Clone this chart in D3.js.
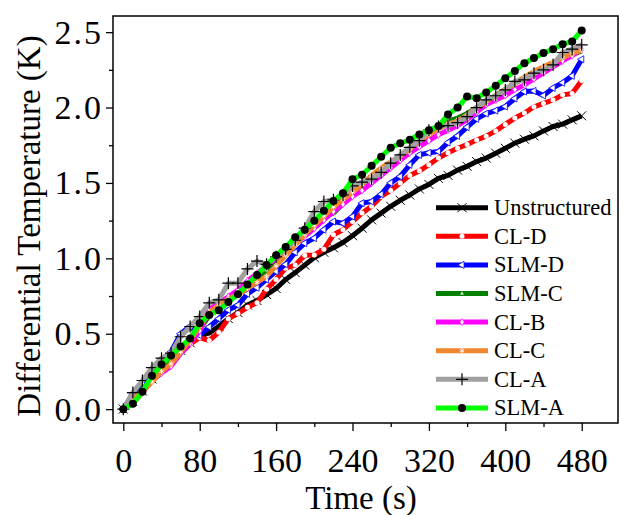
<!DOCTYPE html>
<html>
<head>
<meta charset="utf-8">
<script src="https://cdn.jsdelivr.net/npm/d3@7/dist/d3.min.js"></script>
<style>
  body { margin: 0; background: #fff; }
  svg { display: block; font-family: "Liberation Serif", "Times New Roman", serif; }
</style>
</head>
<body>
<svg id="chart" width="619" height="515"></svg>
<script>
// time axis (s)
const times = [0, 10, 20, 30, 40, 50, 60, 70, 80, 90, 100, 110, 120, 130, 140, 150, 160, 170, 180, 190,
  200, 210, 220, 230, 240, 250, 260, 270, 280, 290, 300, 310, 320, 330, 340, 350, 360, 370, 380, 390,
  400, 410, 420, 430, 440, 450, 460, 470, 480];

const unstructured = [0, 0.05, 0.12, 0.2, 0.27, 0.33, 0.39, 0.44, 0.49, 0.505, 0.55, 0.6, 0.64, 0.69, 0.72, 0.76,
  0.8, 0.86, 0.905, 0.955, 1.005, 1.04, 1.07, 1.105, 1.15, 1.2, 1.255, 1.3, 1.345, 1.385, 1.42, 1.46, 1.49, 1.53,
  1.55, 1.585, 1.61, 1.642, 1.665, 1.697, 1.73, 1.764, 1.79, 1.812, 1.845, 1.874, 1.89, 1.918, 1.945];
const clD = [0, 0.04, 0.11, 0.19, 0.25, 0.31, 0.37, 0.43, 0.475, 0.455, 0.51, 0.6, 0.634, 0.675, 0.705, 0.795,
  0.86, 0.935, 0.955, 1.021, 1.022, 1.06, 1.156, 1.19, 1.244, 1.3, 1.345, 1.41, 1.45, 1.5, 1.55, 1.58, 1.62, 1.665,
  1.7, 1.73, 1.755, 1.785, 1.81, 1.845, 1.888, 1.93, 1.963, 2.005, 2.027, 2.05, 2.084, 2.093, 2.179];
const slmD = [0, 0.1, 0.17, 0.23, 0.29, 0.38, 0.5, 0.55, 0.49, 0.545, 0.6, 0.658, 0.69, 0.765, 0.805, 0.86,
  0.913, 0.96, 1.04, 1.1, 1.134, 1.19, 1.244, 1.233, 1.277, 1.366, 1.377, 1.425, 1.5, 1.543, 1.62, 1.686, 1.7, 1.708,
  1.768, 1.812, 1.87, 1.925, 1.96, 1.98, 2.007, 2.06, 2.106, 2.11, 2.08, 2.13, 2.165, 2.21, 2.32];
const slmC = [0, 0.06, 0.13, 0.2, 0.26, 0.32, 0.39, 0.45, 0.53, 0.62, 0.67, 0.72, 0.77, 0.82, 0.87, 0.92,
  0.98, 1.04, 1.1, 1.17, 1.23, 1.27, 1.3, 1.36, 1.42, 1.47, 1.53, 1.58, 1.63, 1.67, 1.72, 1.77, 1.82, 1.87,
  1.91, 1.93, 1.96, 2.0, 2.04, 2.08, 2.12, 2.16, 2.2, 2.23, 2.26, 2.29, 2.32, 2.35, 2.375];
const clB = [0, 0.06, 0.12, 0.19, 0.24, 0.285, 0.37, 0.44, 0.52, 0.66, 0.705, 0.745, 0.79, 0.85, 0.9, 0.95,
  1.0, 1.05, 1.1, 1.145, 1.2, 1.255, 1.31, 1.36, 1.41, 1.45, 1.5, 1.55, 1.6, 1.65, 1.7, 1.74, 1.78, 1.82,
  1.85, 1.88, 1.92, 1.97, 2.02, 2.05, 2.08, 2.12, 2.15, 2.19, 2.23, 2.27, 2.31, 2.345, 2.385];
const clC = [0, 0.06, 0.12, 0.18, 0.25, 0.3, 0.38, 0.46, 0.55, 0.64, 0.69, 0.73, 0.76, 0.8, 0.84, 0.88,
  0.95, 1.02, 1.09, 1.16, 1.22, 1.28, 1.34, 1.39, 1.44, 1.49, 1.55, 1.6, 1.64, 1.68, 1.725, 1.78, 1.82, 1.86,
  1.89, 1.91, 1.95, 2.0, 2.04, 2.08, 2.12, 2.16, 2.2, 2.24, 2.27, 2.3, 2.33, 2.36, 2.38];
const clA = [0, 0.11, 0.19, 0.275, 0.338, 0.371, 0.48, 0.548, 0.614, 0.705, 0.725, 0.835, 0.835, 0.93, 0.982, 0.96,
  1.01, 1.06, 1.12, 1.2, 1.31, 1.377, 1.388, 1.42, 1.48, 1.505, 1.525, 1.57, 1.631, 1.686, 1.736, 1.78, 1.85, 1.874,
  1.88, 1.9, 1.94, 2.0, 2.051, 2.078, 2.117, 2.173, 2.184, 2.228, 2.25, 2.283, 2.365, 2.387, 2.416];
const slmA = [0, 0.035, 0.115, 0.221, 0.296, 0.355, 0.415, 0.468, 0.57, 0.625, 0.655, 0.71, 0.762, 0.826, 0.89, 0.955,
  1.02, 1.075, 1.14, 1.19, 1.25, 1.315, 1.38, 1.432, 1.525, 1.554, 1.614, 1.673, 1.733, 1.763, 1.786, 1.821, 1.85, 1.877,
  1.954, 2.0, 2.073, 2.062, 2.1, 2.144, 2.195, 2.243, 2.294, 2.328, 2.361, 2.387, 2.42, 2.438, 2.511];

const xTicks = [0, 80, 160, 240, 320, 400, 480];
const xMinorTicks = [40, 120, 200, 280, 360, 440];
const yTicks = [0, 0.5, 1.0, 1.5, 2.0, 2.5];
const yMinorTicks = [0.25, 0.75, 1.25, 1.75, 2.25];

const series = [
  { name: 'Unstructured', values: unstructured, color: '#000000', marker: 'times' },
  { name: 'CL-D', values: clD, color: '#ff0000', marker: 'circle' },
  { name: 'SLM-D', values: slmD, color: '#0000ff', marker: 'triLeft' },
  { name: 'SLM-C', values: slmC, color: '#008000', marker: 'triUp' },
  { name: 'CL-B', values: clB, color: '#ff00ff', marker: 'diamond' },
  { name: 'CL-C', values: clC, color: '#f0862e', marker: 'asterisk' },
  { name: 'CL-A', values: clA, color: '#a0a0a0', marker: 'plus' },
  { name: 'SLM-A', values: slmA, color: '#00ff00', marker: 'dot' },
];

const margin = { top: 16, right: 1, bottom: 92, left: 113 };
const width = 619, height = 515;

const svg = d3.select('#chart');

const x = d3.scaleLinear()
  .domain([-10.8, 518])
  .range([margin.left, width - margin.right]);

const y = d3.scaleLinear()
  .domain([-0.092, 2.607])
  .range([height - margin.bottom, margin.top]);

// axes
svg.append('g')
  .attr('class', 'xaxis')
  .attr('transform', `translate(0,${height - margin.bottom})`)
  .call(d3.axisBottom(x).tickValues(xTicks).tickSize(8).tickPadding(17).tickFormat(d3.format('d')));
svg.append('g')
  .attr('transform', `translate(0,${height - margin.bottom})`)
  .call(d3.axisBottom(x).tickValues(xMinorTicks).tickSize(4).tickFormat(''));

svg.append('g')
  .attr('class', 'yaxis')
  .attr('transform', `translate(${margin.left},0)`)
  .call(d3.axisLeft(y).tickValues(yTicks).tickSize(7).tickPadding(5).tickFormat(d3.format('.1f')));
svg.append('g')
  .attr('transform', `translate(${margin.left},0)`)
  .call(d3.axisLeft(y).tickValues(yMinorTicks).tickSize(4).tickFormat(''));

svg.selectAll('.domain').remove();
svg.selectAll('.tick line').attr('stroke', '#000').attr('stroke-width', 1.3);
svg.selectAll('.tick text')
  .attr('fill', '#000')
  .style('font-family', '"Liberation Serif", serif')
  .style('font-size', '34px');
svg.selectAll('.yaxis .tick text')
  .style('letter-spacing', '2px')
  .attr('dx', '2');

// frame
svg.append('rect')
  .attr('x', margin.left)
  .attr('y', margin.top)
  .attr('width', width - margin.right - margin.left)
  .attr('height', height - margin.bottom - margin.top)
  .attr('fill', 'none')
  .attr('stroke', '#000')
  .attr('stroke-width', 1.5);

// axis titles
svg.append('text')
  .attr('x', 361)
  .attr('y', 509)
  .attr('text-anchor', 'middle')
  .style('font-size', '33px')
  .text('Time (s)');

svg.append('text')
  .attr('transform', 'translate(40,226) rotate(-90)')
  .attr('text-anchor', 'middle')
  .style('font-size', '33px')
  .text('Differential Temperature (K)');

// marker drawing
const drawMarker = (g, type, color) => {
  if (type === 'times') {
    g.append('path').attr('d', 'M-4.5,-4.5L4.5,4.5M-4.5,4.5L4.5,-4.5')
      .attr('stroke', '#000').attr('stroke-width', 1).attr('fill', 'none');
  } else if (type === 'plus') {
    g.append('path').attr('d', 'M-6,0L6,0M0,-6L0,6')
      .attr('stroke', '#000').attr('stroke-width', 1.2).attr('fill', 'none');
  } else if (type === 'circle') {
    g.append('circle').attr('r', 2.5).attr('fill', '#fff');
  } else if (type === 'dot') {
    g.append('circle').attr('r', 4).attr('fill', '#000');
  } else if (type === 'triLeft') {
    g.append('path').attr('d', d3.symbol(d3.symbolTriangle, 22)())
      .attr('transform', 'rotate(-90)')
      .attr('fill', '#fff').attr('stroke', color).attr('stroke-width', 0.8);
  } else if (type === 'triUp') {
    g.append('path').attr('d', d3.symbol(d3.symbolTriangle, 7)())
      .attr('fill', '#fff').attr('stroke', 'none').attr('opacity', 0.8);
  } else if (type === 'diamond') {
    g.append('path').attr('d', d3.symbol(d3.symbolDiamond, 16)())
      .attr('fill', '#fff').attr('stroke', color).attr('stroke-width', 0.6);
  } else if (type === 'asterisk') {
    g.append('path').attr('d', d3.symbol(d3.symbolAsterisk, 18)())
      .attr('fill', 'none').attr('stroke', '#fff').attr('stroke-width', 0.9);
  }
};

const line = d3.line()
  .x((d, i) => x(times[i]))
  .y(d => y(d));

const plot = svg.append('g');

series.forEach(s => {
  const g = plot.append('g');
  g.append('path')
    .datum(s.values)
    .attr('d', line)
    .attr('fill', 'none')
    .attr('stroke', s.color)
    .attr('stroke-width', 5)
    .attr('stroke-linejoin', 'round');
  s.values.forEach((v, i) => {
    const m = g.append('g').attr('transform', `translate(${x(times[i])},${y(v)})`);
    drawMarker(m, s.marker, s.color);
  });
});

// legend
const legend = svg.append('g');
series.forEach((s, i) => {
  const ly = 207.7 + i * 28.6;
  legend.append('line')
    .attr('x1', 436).attr('x2', 488)
    .attr('y1', ly).attr('y2', ly)
    .attr('stroke', s.color)
    .attr('stroke-width', 5);
  const m = legend.append('g').attr('transform', `translate(462,${ly})`);
  drawMarker(m, s.marker, s.color);
  legend.append('text')
    .attr('x', 494)
    .attr('y', ly + 7.5)
    .style('font-size', '22.5px')
    .text(s.name);
});
</script>
</body>
</html>
